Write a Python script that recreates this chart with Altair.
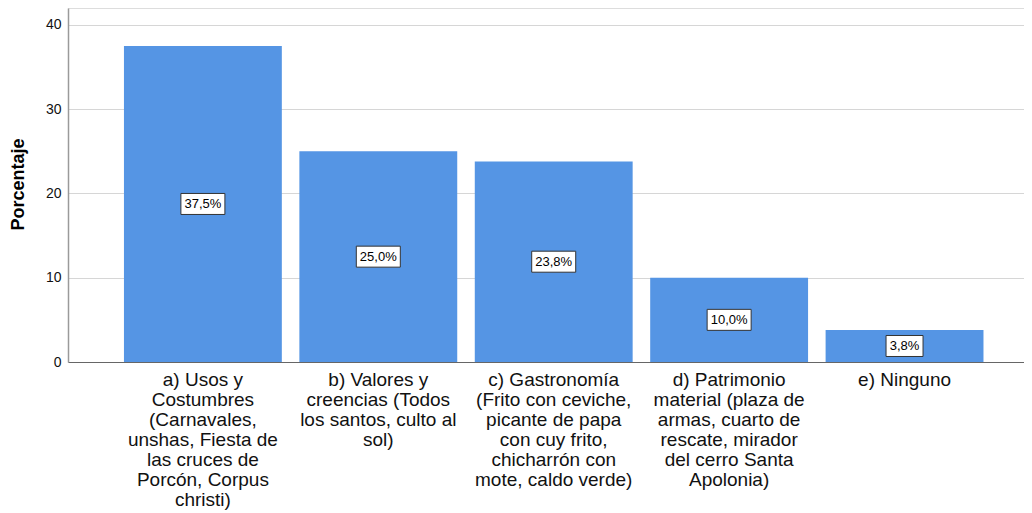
import altair as alt
import pandas as pd

categories = [
    "a) Usos y\nCostumbres\n(Carnavales,\nunshas, Fiesta de\nlas cruces de\nPorcón, Corpus\nchristi)",
    "b) Valores y\ncreencias (Todos\nlos santos, culto al\nsol)",
    "c) Gastronomía\n(Frito con ceviche,\npicante de papa\ncon cuy frito,\nchicharrón con\nmote, caldo verde)",
    "d) Patrimonio\nmaterial (plaza de\narmas, cuarto de\nrescate, mirador\ndel cerro Santa\nApolonia)",
    "e) Ninguno",
]
values = [37.5, 25.0, 23.8, 10.0, 3.8]
labels = ["37,5%", "25,0%", "23,8%", "10,0%", "3,8%"]
y_ticks = [0, 10, 20, 30, 40]

df = pd.DataFrame({"cat": categories, "val": values, "lab": labels})

FONT = "Liberation Sans"
BLUE = "#5595e4"

x_enc = alt.X(
    "cat:N",
    sort=None,
    title=None,
    scale=alt.Scale(paddingInner=0.1, paddingOuter=0.275, align=0.58),
    axis=alt.Axis(
        labelAngle=0,
        labelExpr="split(datum.label, '\\n')",
        labelFontSize=19,
        labelLineHeight=20,
        labelColor="#111111",
        labelFont=FONT,
        labelPadding=8,
        labelBaseline="top",
        labelLimit=400,
        ticks=False,
        domainColor="#666666",
        domainWidth=1,
        grid=False,
    ),
)

y_enc = alt.Y(
    "val:Q",
    title="Porcentaje",
    scale=alt.Scale(domain=[0, 42], nice=False),
    axis=alt.Axis(
        values=y_ticks,
        grid=True,
        gridColor="#d6d6d6",
        gridWidth=1,
        ticks=False,
        domainColor="#9a9a9a",
        domainWidth=1.5,
        labelFontSize=14,
        labelFont=FONT,
        labelColor="#111111",
        labelPadding=7,
        titleFontSize=18,
        titleFont=FONT,
        titleFontWeight="bold",
        titleColor="#000000",
        titleX=-50,
        titleY=176,
        titleBaseline="middle",
    ),
)

bars = alt.Chart(df).mark_bar(color=BLUE).encode(x=x_enc, y=y_enc)

base_lab = alt.Chart(df).transform_calculate(mid="datum.val / 2")

box5 = base_lab.transform_filter("length(datum.lab) == 5").mark_rect(
    width=44, height=21, fill="white", stroke="#333333", strokeWidth=1
).encode(x=alt.X("cat:N", sort=None), y=alt.Y("mid:Q"))

box4 = base_lab.transform_filter("length(datum.lab) == 4").mark_rect(
    width=37, height=21, fill="white", stroke="#333333", strokeWidth=1
).encode(x=alt.X("cat:N", sort=None), y=alt.Y("mid:Q"))

txt = base_lab.mark_text(
    font=FONT, fontSize=13, color="#000000", baseline="middle", align="center"
).encode(x=alt.X("cat:N", sort=None), y=alt.Y("mid:Q"), text="lab:N")

chart = (
    alt.layer(bars, box5, box4, txt)
    .properties(
        width=956,
        height=354,
        autosize=alt.AutoSizeParams(type="none"),
        padding={"left": 60, "top": 0, "right": 0, "bottom": 151},
    )
    .configure_view(stroke=None)
    .configure(background="white")
)

chart.save("out.html", embed_options={"renderer": "svg", "actions": False})
